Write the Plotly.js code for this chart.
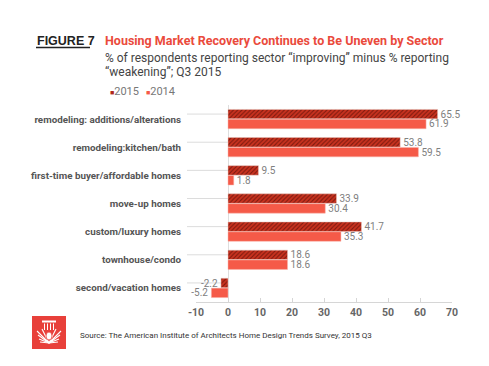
<!DOCTYPE html>
<html>
<head>
<meta charset="utf-8">
<script src="https://cdn.plot.ly/plotly-3.0.1.min.js"></script>
<style>
html,body{margin:0;padding:0;background:#fff;}
#chart{width:489px;height:366px;}
</style>
</head>
<body>
<div id="chart"></div>
<script>
const categories = [
  "remodeling: additions/alterations",
  "remodeling:kitchen/bath",
  "first-time buyer/affordable homes",
  "move-up homes",
  "custom/luxury homes",
  "townhouse/condo",
  "second/vacation homes"
];
const values2015 = [65.5, 53.8, 9.5, 33.9, 41.7, 18.6, -2.2];
const values2014 = [61.9, 59.5, 1.8, 30.4, 35.3, 18.6, -5.2];
const seriesNames = ["2015", "2014"];
const xTicks = [-10, 0, 10, 20, 30, 40, 50, 60, 70];

const FONT = "Roboto, 'Noto Sans', sans-serif";
const GRAY = "#666";

const fmt = v => v.toFixed(1);

const trace2015 = {
  type: "bar", orientation: "h", name: seriesNames[0],
  y: categories, x: values2015,
  text: values2015.map(fmt), textposition: "outside", cliponaxis: false,
  constraintext: "none",
  textfont: {family: FONT, size: 10, color: "#808080"},
  marker: {color: "#c9321f", line: {color: "#e9c4bd", width: 0.5},
           pattern: {shape: "/", fgcolor: "#7e1a0f", bgcolor: "#c9321f", size: 3, solidity: 0.35}},
  hoverinfo: "skip"
};
const trace2014 = {
  type: "bar", orientation: "h", name: seriesNames[1],
  y: categories, x: values2014,
  text: values2014.map(fmt), textposition: "outside", cliponaxis: false,
  constraintext: "none",
  textfont: {family: FONT, size: 10, color: "#808080"},
  marker: {color: "#f55a48", line: {color: "#f9b7ad", width: 0.5}},
  hoverinfo: "skip"
};

// helpers to convert reference pixels to paper coords (plot: x 196..452, y 105..302)
const PX = p => (p - 196) / 256;
const PY = p => (302 - p) / 197;

const shapes = [];
categories.forEach(c => {
  shapes.push({type: "line", xref: "paper", yref: "y", ysizemode: "pixel", yanchor: c,
    x0: PX(187), x1: PX(228), y0: 5, y1: 5, line: {color: "#dcdcdc", width: 1}, layer: "below"});
});
// FIGURE 7 underline
shapes.push({type: "line", xref: "paper", yref: "paper", x0: PX(36), x1: PX(90), y0: PY(47.5), y1: PY(47.5),
  line: {color: "#222", width: 1.3}});
// logo
shapes.push({type: "rect", xref: "paper", yref: "paper", x0: PX(32), x1: PX(66), y0: PY(349), y1: PY(316),
  fillcolor: "#e8403a", line: {width: 0}});
shapes.push({type: "rect", xref: "paper", yref: "paper", x0: PX(42), x1: PX(56), y0: PY(322.5), y1: PY(320.5),
  fillcolor: "#fff", line: {width: 0}});
[44, 47, 50, 53].forEach(px => {
  shapes.push({type: "line", xref: "paper", yref: "paper", x0: PX(px + 0.5), x1: PX(px + 0.5), y0: PY(330), y1: PY(323.5),
    line: {color: "#fff", width: 1}});
});
const cx = 49, cy = 343;
[[37, 331], [38, 335], [39, 339], [40, 342], [61, 331], [60, 335], [59, 339], [58, 342], [42, 329], [56, 329]].forEach(p => {
  shapes.push({type: "line", xref: "paper", yref: "paper", x0: PX(cx), y0: PY(cy), x1: PX(p[0]), y1: PY(p[1]),
    line: {color: "#fff", width: 1.1}});
});
shapes.push({type: "circle", xref: "paper", yref: "paper", x0: PX(46), x1: PX(52), y0: PY(340), y1: PY(332),
  fillcolor: "#fff", line: {color: "#e8403a", width: 0.8}});

const annotations = [
  {text: "<b>FIGURE 7</b>", xref: "paper", yref: "paper", x: PX(35), y: PY(41), xanchor: "left", yanchor: "middle",
   showarrow: false, font: {family: "'Liberation Sans', Arial, sans-serif", size: 12.5, color: "#222"}},
  {text: "<b>Housing Market Recovery Continues to Be Uneven by Sector</b>", xref: "paper", yref: "paper",
   x: PX(103), y: PY(41), xanchor: "left", yanchor: "middle", showarrow: false,
   font: {family: FONT, size: 12.5, color: "#ea4a3c"}},
  {text: "% of respondents reporting sector \u201cimproving\u201d minus % reporting", xref: "paper", yref: "paper",
   x: PX(103), y: PY(58), xanchor: "left", yanchor: "middle", showarrow: false,
   font: {family: FONT, size: 12, color: "#444"}},
  {text: "\u201cweakening\u201d; Q3 2015", xref: "paper", yref: "paper",
   x: PX(103), y: PY(71.5), xanchor: "left", yanchor: "middle", showarrow: false,
   font: {family: FONT, size: 12, color: "#444"}},
  {text: '<span style="color:#b02a1a;font-size:7px">\u25A0</span>' + seriesNames[0], xref: "paper", yref: "paper",
   x: PX(108), y: PY(92), xanchor: "left", yanchor: "middle", showarrow: false,
   font: {family: FONT, size: 11, color: "#777"}},
  {text: '<span style="color:#f55a48;font-size:7px">\u25A0</span>' + seriesNames[1], xref: "paper", yref: "paper",
   x: PX(144), y: PY(92), xanchor: "left", yanchor: "middle", showarrow: false,
   font: {family: FONT, size: 11, color: "#777"}},
  {text: "Source: The American Institute of Architects Home Design Trends Survey, 2015 Q3", xref: "paper", yref: "paper",
   x: PX(78), y: PY(335), xanchor: "left", yanchor: "middle", showarrow: false,
   font: {family: FONT, size: 8, color: "#333"}}
];

const layout = {
  width: 489, height: 366,
  margin: {l: 196, r: 37, t: 105, b: 64, pad: 0},
  paper_bgcolor: "#fff", plot_bgcolor: "#fff",
  barmode: "group", bargap: 0.3, bargroupgap: 0.04,
  showlegend: false,
  xaxis: {range: [-10, 70], tickvals: xTicks, ticktext: xTicks.map(v => "<b>" + v + "</b>"),
    showgrid: false, zeroline: true, zerolinecolor: "#dedede", zerolinewidth: 1,
    showline: true, linecolor: "#d6d6d6", linewidth: 1, ticks: "inside", ticklen: 4, tickcolor: "#d6d6d6",
    tickfont: {family: FONT, size: 10.5, color: GRAY}, fixedrange: true},
  yaxis: {type: "category", categoryorder: "array", categoryarray: categories, autorange: "reversed",
    tickvals: categories, ticktext: categories.map(c => "<b>" + c + "</b>"),
    showgrid: false, zeroline: false, showline: false, ticks: "", ticklabelstandoff: 14,
    tickfont: {family: FONT, size: 9.8, color: "#555"}, fixedrange: true},
  shapes: shapes, annotations: annotations
};

Plotly.newPlot("chart", [trace2015, trace2014], layout, {displayModeBar: false, staticPlot: true});
</script>
</body>
</html>
